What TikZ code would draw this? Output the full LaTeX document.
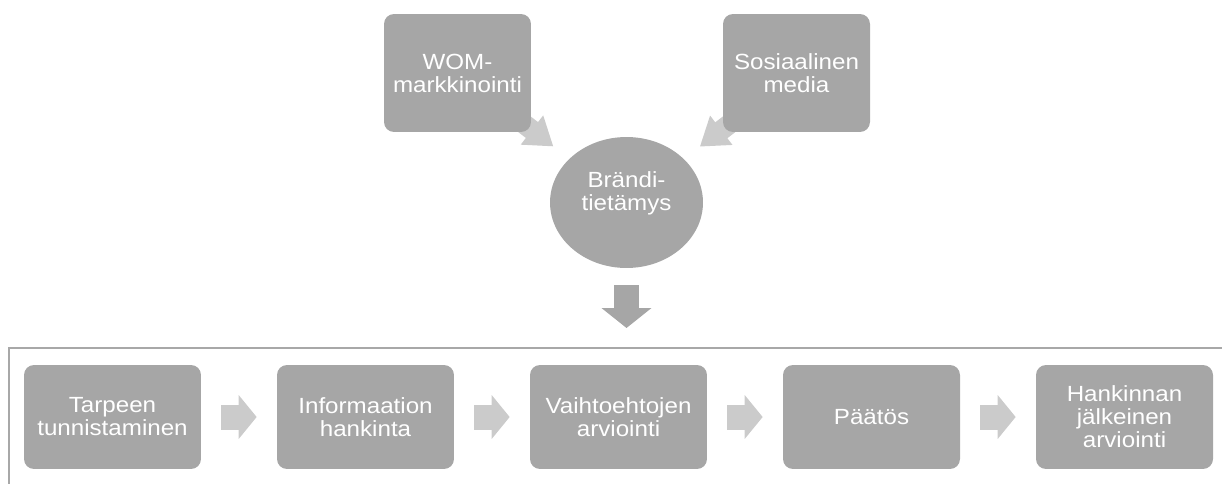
\documentclass[tikz,border=0pt]{standalone}
\usepackage{fontspec}
\setmainfont{Liberation Sans}[FakeStretch=1.1]
\usepackage{tikz}
\usetikzlibrary{calc}
\usetikzlibrary{fit,backgrounds}
\usetikzlibrary{shapes.geometric,arrows.meta}
\usepackage{color}

\definecolor{boitegris}{RGB}{166,166,166}
\definecolor{flechegris}{RGB}{203,203,203}
\definecolor{cadregris}{RGB}{168,168,168}

\tikzset{
	boite/.style={rectangle, rounded corners=0.2cm, fill=boitegris, text=white,
		align=center, inner sep=0pt, font=\fontsize{12.5}{13.1}\selectfont},
	haut/.style={boite, minimum width=2.94cm, minimum height=2.36cm},
	etape/.style={boite, minimum width=3.54cm, minimum height=2.08cm},
	fleche/.style={flechegris, line width=0.5cm,
		-{Triangle[length=0.36cm,width=0.86cm]}, shorten <=0.4cm, shorten >=0.4cm},
	flechecote/.style={flechegris, line width=0.4cm,
		-{Triangle[length=0.54cm,width=0.7cm]}, shorten <=-0.4cm, shorten >=0.4cm},
	flechebas/.style={boitegris, line width=0.5cm,
		-{Triangle[length=0.4cm,width=0.98cm]}, shorten <=0.34cm, shorten >=0.4cm}
}

\begin{document}
\begin{tikzpicture}[x=0.02cm,y=-0.02cm]
%					Cadre de la page :
					\useasboundingbox (0,0) rectangle (1222,483);
%					Sources en haut :
					\node[haut] (wom) at (457.5,73) {WOM-\\markkinointi};
					\node[haut] (some) at (796.5,73) {Sosiaalinen\\media};
%					Cercle central :
					\node[ellipse, fill=boitegris, text=white, align=center, inner sep=0pt,
						minimum width=3.06cm, minimum height=2.62cm, text depth=0.45cm,
						font=\fontsize{12.5}{13.1}\selectfont] (brandi) at (626.5,202.5) {Brändi-\\tietämys};
%					Flèches vers le cercle (sous les boîtes) :
					\begin{scope}[on background layer]
					\draw[flechecote] (wom) -- (brandi);
					\draw[flechecote] (some) -- (brandi);
					\end{scope}
%					Cadre du processus :
					\draw[cadregris, line width=0.04cm] (9,495) |- (1235,348);
					\coordinate (prosessi) at (626.5,348);
					\draw[flechebas] (brandi.south) -- (prosessi);
%					Étapes du processus :
					\node[etape] (tarve) at (112.5,417) {Tarpeen\\tunnistaminen};
					\node[etape] (info) at (365.5,417) {Informaation\\hankinta};
					\node[etape] (vaiht) at (618.5,417) {Vaihtoehtojen\\arviointi};
					\node[etape] (paatos) at (871.5,417) {Päätös};
					\node[etape] (jalk) at (1124.5,417) {Hankinnan\\jälkeinen\\arviointi};
%					Flèches entre les étapes :
					\draw[fleche] (tarve.east) -- (info.west);
					\draw[fleche] (info.east) -- (vaiht.west);
					\draw[fleche] (vaiht.east) -- (paatos.west);
					\draw[fleche] (paatos.east) -- (jalk.west);
				\end{tikzpicture}
\end{document}
